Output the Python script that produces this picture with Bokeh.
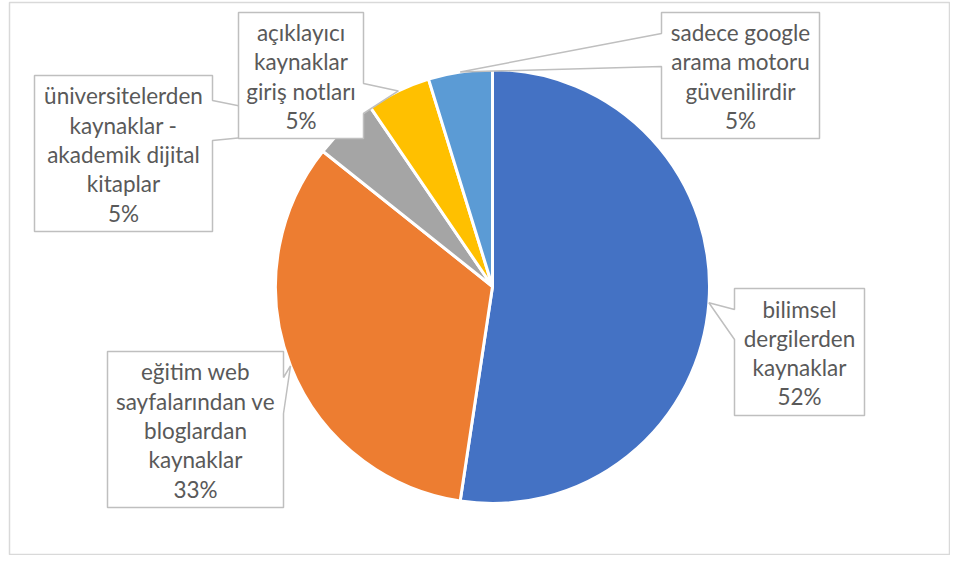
import math
from bokeh.plotting import figure
from bokeh.models import Range1d, ColumnDataSource
from bokeh.core.properties import value
from bokeh.embed import file_html
from bokeh.resources import INLINE

# ---- data ----
categories = [
    "bilimsel\ndergilerden\nkaynaklar",
    "eğitim web\nsayfalarından ve\nbloglardan\nkaynaklar",
    "üniversitelerden\nkaynaklar -\nakademik dijital\nkitaplar",
    "açıklayıcı\nkaynaklar\ngiriş notları",
    "sadece google\narama motoru\ngüvenilirdir",
]
counts = [11, 7, 1, 1, 1]
colors = ["#4472C4", "#ED7D31", "#A5A5A5", "#FFC000", "#5B9BD5"]

# ---- layout (picture pixels) ----
W, H = 950, 555
X0, Y0 = 0, 0
CX, CY, R = 492, 286, 217
BORDER = (9, 2, 949, 554)
# callout boxes: left, top, right, bottom
boxes = [
    (734, 288, 864, 415),
    (107, 351, 283, 507),
    (34, 75, 212, 231),
    (238, 12, 363, 138),
    (661, 12, 819, 138),
]
sides = ["left", "right", "right", "right", "left"]
bases = [(309, 339), (377, 413), (100, 140), (83, 113), (33, 66)]
LINE_H = 29.3
FONT = "Lato"
FONT_SIZE = "22.5px"


def dy(page_y):
    return Y0 + H - page_y


total = sum(counts)
fracs = [c / total for c in counts]
cum = [0.0]
for f in fracs:
    cum.append(cum[-1] + f)

p = figure(width=W, height=H, output_backend="svg", toolbar_location=None,
           x_range=Range1d(X0, X0 + W), y_range=Range1d(0, H),
           x_axis_location=None, y_axis_location=None, min_border=0)
p.grid.visible = False
p.outline_line_color = None
p.background_fill_color = "white"
p.border_fill_color = "white"

bl, bt, br, bb = BORDER
p.quad(left=[bl], right=[br], top=[dy(bt)], bottom=[dy(bb)],
       fill_color=None, line_color="#D9D9D9", line_width=1.5)

wsrc = ColumnDataSource(dict(
    x=[CX] * len(counts), y=[dy(CY)] * len(counts),
    start=[math.pi / 2 - 2 * math.pi * cum[i] for i in range(len(counts))],
    end=[math.pi / 2 - 2 * math.pi * cum[i + 1] for i in range(len(counts))],
    color=colors,
))
p.wedge(x="x", y="y", radius=R, start_angle="start", end_angle="end",
        direction="clock", fill_color="color", line_color="white",
        line_width=3, source=wsrc)

# callouts
xs, ys = [], []
tx, ty, tt = [], [], []
for i, cat in enumerate(categories):
    l, t, r, b = boxes[i]
    th = 2 * math.pi * (cum[i] + cum[i + 1]) / 2
    tipx = CX + R * math.sin(th)
    tipy = CY - R * math.cos(th)
    b1, b2 = bases[i]
    if sides[i] == "right":
        pts = [(l, t), (r, t), (r, b1), (tipx, tipy), (r, b2), (r, b), (l, b)]
    else:
        pts = [(l, t), (r, t), (r, b), (l, b), (l, b2), (tipx, tipy), (l, b1)]
    xs.append([q[0] for q in pts])
    ys.append([dy(q[1]) for q in pts])
    lines = cat.split("\n") + [f"{round(fracs[i] * 100)}%"]
    n = len(lines)
    cxb = (l + r) / 2
    cyb = (t + b) / 2 + 1
    for k, ln in enumerate(lines):
        tx.append(cxb)
        ty.append(dy(cyb + (k - (n - 1) / 2) * LINE_H))
        tt.append(ln)

p.patches(xs=xs, ys=ys, fill_color="white", line_color="#BFBFBF", line_width=1.5)
p.text(x=tx, y=ty, text=tt, text_align="center", text_baseline="middle",
       text_font=value(FONT), text_font_size=FONT_SIZE, text_color="#595959")

open("out.html", "w").write(file_html(p, INLINE))
